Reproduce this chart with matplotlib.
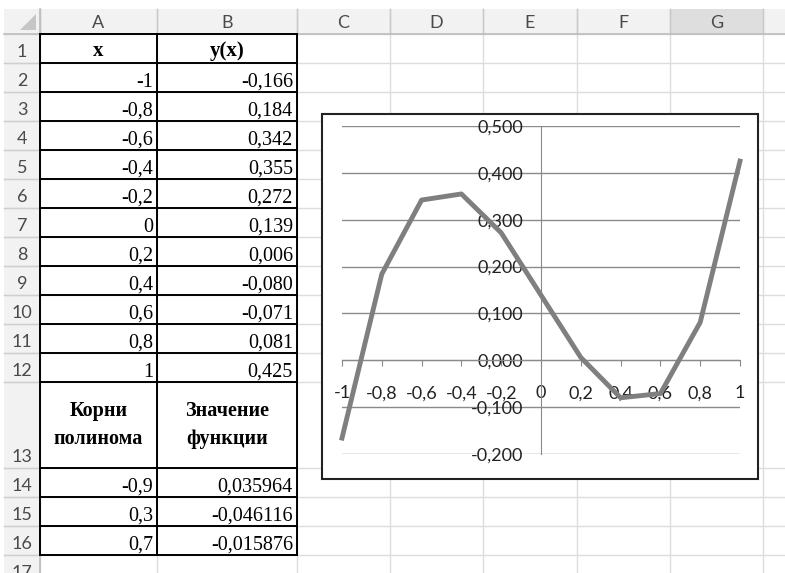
import matplotlib.pyplot as plt
from matplotlib.patches import Rectangle, Polygon

# data read from the sheet
x_vals = [-1, -0.8, -0.6, -0.4, -0.2, 0, 0.2, 0.4, 0.6, 0.8, 1]
y_vals = [-0.166, 0.184, 0.342, 0.355, 0.272, 0.139, 0.006, -0.080, -0.071, 0.081, 0.425]
roots = [-0.9, 0.3, 0.7]
root_vals = [0.035964, -0.046116, -0.015876]
col_names = ['A', 'B', 'C', 'D', 'E', 'F', 'G']
y_ticks = [0.5, 0.4, 0.3, 0.2, 0.1, 0.0, -0.1, -0.2]


def fmt(v, nd=None):
    if nd is None:
        s = ('%g' % v)
    else:
        s = '%.*f' % (nd, v)
    return s.replace('.', ',')


W, H = 785, 573
fig = plt.figure(figsize=(W / 100, H / 100), dpi=100)
bg = fig.add_axes([0, 0, 1, 1])
bg.set_xlim(0, W)
bg.set_ylim(H, 0)
bg.axis('off')

col_edges = [4, 40, 157, 297, 390, 483, 577, 670, 763, 800]
row_edges = [9, 34]
for i in range(12):
    row_edges.append(row_edges[-1] + 29)
row_edges.append(468)
for i in range(4):
    row_edges.append(row_edges[-1] + 29)

grid_c = '#dcdcdc'
hdr_c = '#f2f2f2'
hdr_txt = '#4a4a4a'
sans = ['Lato', 'DejaVu Sans']
serif = ['Liberation Serif', 'DejaVu Serif']

# sheet grid
for xe in col_edges[1:]:
    bg.plot([xe, xe], [row_edges[0], H], color=grid_c, lw=1)
for ye in row_edges[1:]:
    bg.plot([col_edges[0], W], [ye, ye], color=grid_c, lw=1)

# column header strip
bg.add_patch(Rectangle((col_edges[0], row_edges[0]), W - col_edges[0], row_edges[1] - row_edges[0],
                       facecolor=hdr_c, edgecolor='none'))
bg.add_patch(Rectangle((col_edges[7], row_edges[0]), col_edges[8] - col_edges[7], row_edges[1] - row_edges[0],
                       facecolor='#dedede', edgecolor='none'))
# row header strip
bg.add_patch(Rectangle((col_edges[0], row_edges[0]), col_edges[1] - col_edges[0], H - row_edges[0],
                       facecolor=hdr_c, edgecolor='none'))
for xe in col_edges[1:9]:
    bg.plot([xe, xe], [row_edges[0], row_edges[1]], color='#c8c8c8', lw=1)
bg.plot([col_edges[0], W], [row_edges[1], row_edges[1]], color='#bdbdbd', lw=1.2)
bg.plot([col_edges[1], col_edges[1]], [row_edges[0], H], color='#bdbdbd', lw=1.2)
for ye in row_edges[2:]:
    bg.plot([col_edges[0], col_edges[1]], [ye, ye], color='#cfcfcf', lw=1)
bg.add_patch(Polygon([[36, 14], [36, 30], [20, 30]], closed=True, facecolor='#c6c6c6', edgecolor='none'))

for i, name in enumerate(col_names):
    xc = (col_edges[i + 1] + col_edges[i + 2]) / 2
    bg.text(xc, (row_edges[0] + row_edges[1]) / 2 + 1, name, ha='center', va='center',
            fontsize=13, color=hdr_txt, family=sans)
for r in range(1, 18):
    yb = row_edges[r + 1] if r + 1 < len(row_edges) else row_edges[r] + 29
    bg.text((col_edges[0] + col_edges[1]) / 2, yb - 6, str(r), ha='center', va='baseline',
            fontsize=13, color=hdr_txt, family=sans)

# table contents
bg.text((col_edges[1] + col_edges[2]) / 2, row_edges[2] - 7, 'x', ha='center', va='baseline',
        fontsize=15, weight='bold', family=serif)
bg.text((col_edges[2] + col_edges[3]) / 2, row_edges[2] - 7, 'y(x)', ha='center', va='baseline',
        fontsize=15, weight='bold', family=serif)
for i in range(len(x_vals)):
    yb = row_edges[i + 3] - 5
    bg.text(col_edges[2] - 4, yb, fmt(x_vals[i]), ha='right', va='baseline', fontsize=14.5, family=serif)
    bg.text(col_edges[3] - 4, yb, fmt(y_vals[i], 3), ha='right', va='baseline', fontsize=14.5, family=serif)
bg.text((col_edges[1] + col_edges[2]) / 2, 425, 'Корни\nполинома', ha='center', va='center',
        fontsize=14.5, weight='bold', family=serif, linespacing=1.5)
bg.text((col_edges[2] + col_edges[3]) / 2, 425, 'Значение\nфункции', ha='center', va='center',
        fontsize=14.5, weight='bold', family=serif, linespacing=1.5)
for i in range(len(roots)):
    yb = row_edges[i + 15] - 5
    bg.text(col_edges[2] - 4, yb, fmt(roots[i]), ha='right', va='baseline', fontsize=14.5, family=serif)
    bg.text(col_edges[3] - 4, yb, fmt(root_vals[i], 6), ha='right', va='baseline', fontsize=14.5, family=serif)

# black borders of the table
for ye in row_edges[1:18]:
    bg.plot([col_edges[1], col_edges[3]], [ye, ye], color='black', lw=1.4)
for xe in col_edges[1:4]:
    bg.plot([xe, xe], [row_edges[1], row_edges[17]], color='black', lw=1.4)

# chart frame
bg.add_patch(Rectangle((322, 114), 436, 365, facecolor='white', edgecolor='#222222', lw=1.5, zorder=5))

ax = fig.add_axes([342 / W, 1 - 454 / H, (740 - 342) / W, (454 - 126) / H])
ax.set_zorder(10)
ax.patch.set_visible(False)
ax.set_xlim(-1, 1)
ax.set_ylim(-0.2, 0.5)
for yt in y_ticks:
    ax.axhline(yt, color='#8a8a8a', lw=1, zorder=1)
ax.plot(x_vals, y_vals, color='#7f7f7f', lw=3.5, clip_on=False, zorder=3)
ax.spines['top'].set_visible(False)
ax.spines['right'].set_visible(False)
ax.spines['bottom'].set_position(('data', 0))
ax.spines['left'].set_position(('data', 0))
ax.spines['bottom'].set_color('#8a8a8a')
ax.spines['left'].set_color('#8a8a8a')
ax.set_xticks(x_vals)
ax.set_xticklabels([fmt(v) for v in x_vals])
ax.set_yticks(y_ticks)
ax.set_yticklabels([fmt(v, 3) for v in y_ticks])
ax.tick_params(axis='x', direction='out', length=4, color='#8a8a8a', pad=14, labelsize=13)
ax.tick_params(axis='y', length=0, pad=13, labelsize=13)
for lab in ax.get_xticklabels() + ax.get_yticklabels():
    lab.set_family(sans)
    lab.set_color('#222222')

fig.savefig('out.png', dpi=100)
